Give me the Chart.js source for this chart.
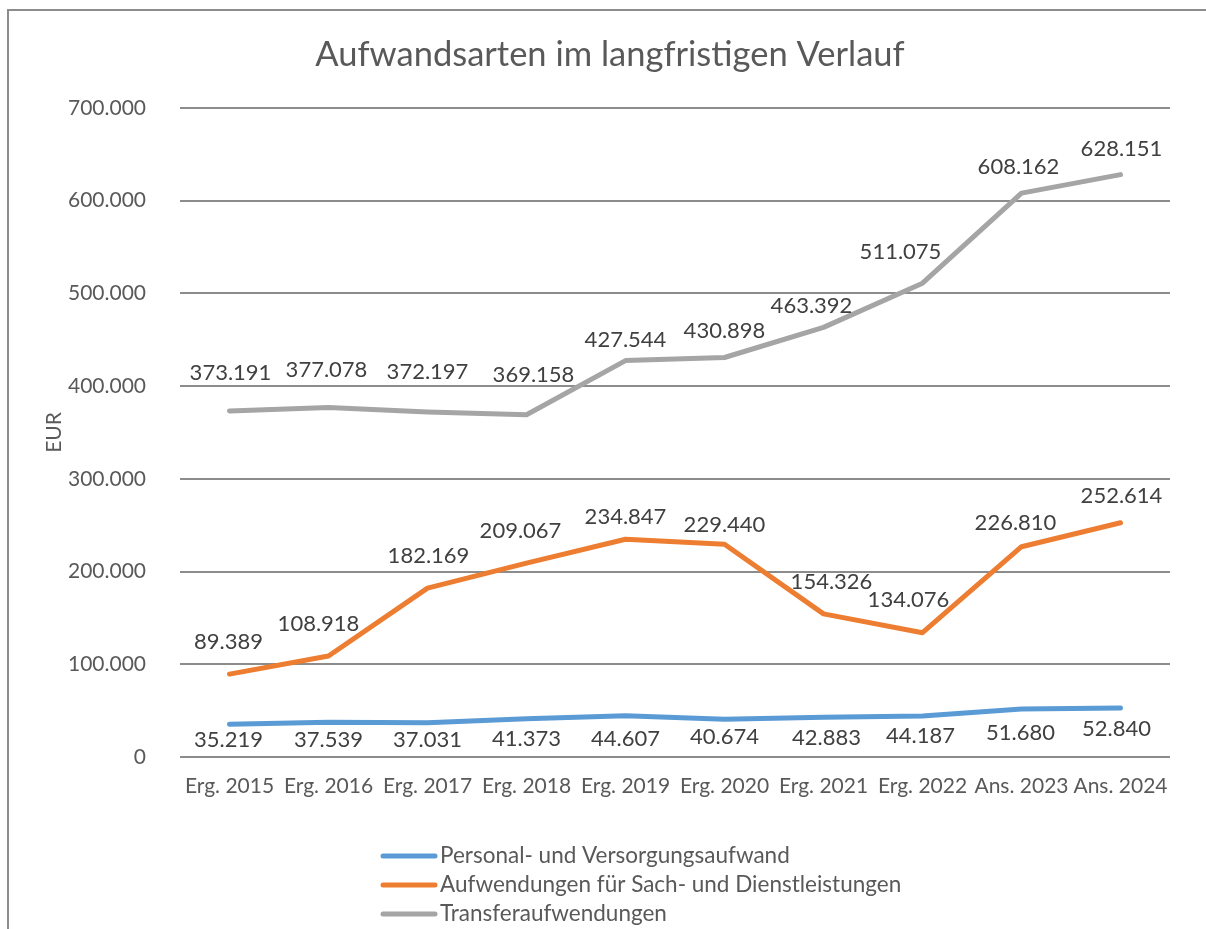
<!DOCTYPE html>
<html>
<head>
<meta charset="utf-8">
<script src="https://cdn.jsdelivr.net/npm/chart.js@4"></script>
<style>
  html, body { margin: 0; padding: 0; background: #ffffff; }
  #wrap { width: 1206px; height: 929px; }
</style>
</head>
<body>
<div id="wrap"><canvas id="c" width="1206" height="929"></canvas></div>
<script>
const chartTitle = 'Aufwandsarten im langfristigen Verlauf';
const yAxisTitle = 'EUR';
const categories = ['Erg. 2015', 'Erg. 2016', 'Erg. 2017', 'Erg. 2018', 'Erg. 2019', 'Erg. 2020', 'Erg. 2021', 'Erg. 2022', 'Ans. 2023', 'Ans. 2024'];
const seriesNames = ['Personal- und Versorgungsaufwand', 'Aufwendungen für Sach- und Dienstleistungen', 'Transferaufwendungen'];
const personal = [35219, 37539, 37031, 41373, 44607, 40674, 42883, 44187, 51680, 52840];
const sachDienst = [89389, 108918, 182169, 209067, 234847, 229440, 154326, 134076, 226810, 252614];
const transfer = [373191, 377078, 372197, 369158, 427544, 430898, 463392, 511075, 608162, 628151];
const yTicks = [0, 100000, 200000, 300000, 400000, 500000, 600000, 700000];

const FONT = 'Lato, "Open Sans", "Liberation Sans", sans-serif';
const TEXT = '#595959';
const LABEL = '#404040';
const GRID = '#8c8c8c';
const colors = ['#5b9bd5', '#ed7d31', '#a5a5a5'];

function fmt(v) {
  return String(Math.round(v)).replace(/\B(?=(\d{3})+(?!\d))/g, '.');
}

// label placement (pixel offsets from the point), per series
const labelOffsets = [
  { dx: [-1,0,0,0,0,0,3,-2,-1,-4], dy: [16,18,17,20,23,18,21,20,24,21] },
  { dx: [-1,-10,1,-6,0,0,8,-14,-6,1], dy: [-32,-32,-32,-32,-22,-19,-32,-33,-24,-27] },
  { dx: [1,-2,0,7,0,0,-12,-22,-3,1], dy: [-38,-37,-40,-40,-21,-27,-21,-31,-26,-26] }
];

const framePlugin = {
  id: 'frame',
  beforeDraw(chart) {
    const ctx = chart.ctx;
    ctx.save();
    ctx.fillStyle = '#ffffff';
    ctx.fillRect(0, 0, chart.width, chart.height);
    ctx.strokeStyle = '#8c8c8c';
    ctx.lineWidth = 2;
    ctx.beginPath();
    ctx.moveTo(8, chart.height + 5);
    ctx.lineTo(8, 10);
    ctx.lineTo(chart.width + 5, 10);
    ctx.stroke();
    ctx.fillStyle = TEXT;
    ctx.font = '34.5px ' + FONT;
    ctx.textAlign = 'center';
    ctx.textBaseline = 'middle';
    ctx.fillText(chartTitle, 610, 55);
    ctx.restore();
  },
  afterDatasetsDraw(chart) {
    const ctx = chart.ctx;
    ctx.save();
    ctx.font = '22px ' + FONT;
    ctx.fillStyle = LABEL;
    ctx.textAlign = 'center';
    ctx.textBaseline = 'middle';
    chart.data.datasets.forEach((ds, i) => {
      const meta = chart.getDatasetMeta(i);
      meta.data.forEach((pt, j) => {
        const o = labelOffsets[i];
        ctx.fillText(fmt(ds.data[j]), pt.x + o.dx[j], pt.y + o.dy[j]);
      });
    });
    ctx.restore();
  },
  afterDraw(chart) {
    const ctx = chart.ctx;
    ctx.save();
    ctx.font = '22.5px ' + FONT;
    ctx.textAlign = 'left';
    ctx.textBaseline = 'middle';
    chart.data.datasets.forEach((ds, i) => {
      const y = 856 + i * 29;
      ctx.strokeStyle = ds.borderColor;
      ctx.lineWidth = 5;
      ctx.lineCap = 'round';
      ctx.beginPath();
      ctx.moveTo(383, y);
      ctx.lineTo(435, y);
      ctx.stroke();
      ctx.fillStyle = TEXT;
      ctx.fillText(ds.label, 440, y);
    });
    ctx.restore();
  }
};

const datasets = [personal, sachDienst, transfer].map((d, i) => ({
  label: seriesNames[i],
  data: d,
  borderColor: colors[i],
  backgroundColor: colors[i],
  borderWidth: 5,
  borderCapStyle: 'round',
  borderJoinStyle: 'round',
  pointRadius: 0,
  tension: 0,
  fill: false
}));

new Chart(document.getElementById('c'), {
  type: 'line',
  data: { labels: categories, datasets },
  options: {
    responsive: false,
    animation: false,
    layout: { padding: { left: 0, top: 108, right: 36, bottom: 112 } },
    plugins: {
      legend: { display: false },
      title: { display: false },
      tooltip: { enabled: false }
    },
    scales: {
      x: {
        offset: true,
        grid: { display: false, drawTicks: false },
        border: { display: false },
        ticks: { color: TEXT, font: { family: FONT, size: 21 }, padding: 17, maxRotation: 0, autoSkip: false },
        afterFit(s) { s.height = 60; }
      },
      y: {
        min: 0,
        max: 700000,
        afterBuildTicks(s) { s.ticks = yTicks.map(v => ({ value: v })); },
        grid: { color: GRID, lineWidth: 2, drawTicks: false },
        border: { display: false },
        ticks: { color: TEXT, font: { family: FONT, size: 21 }, padding: 34, callback: v => fmt(v) },
        title: { display: true, text: yAxisTitle, color: TEXT, font: { family: FONT, size: 21 }, padding: { top: 42, bottom: 0 } },
        afterFit(s) { s.width = 180; }
      }
    }
  },
  plugins: [framePlugin]
});
</script>
</body>
</html>
